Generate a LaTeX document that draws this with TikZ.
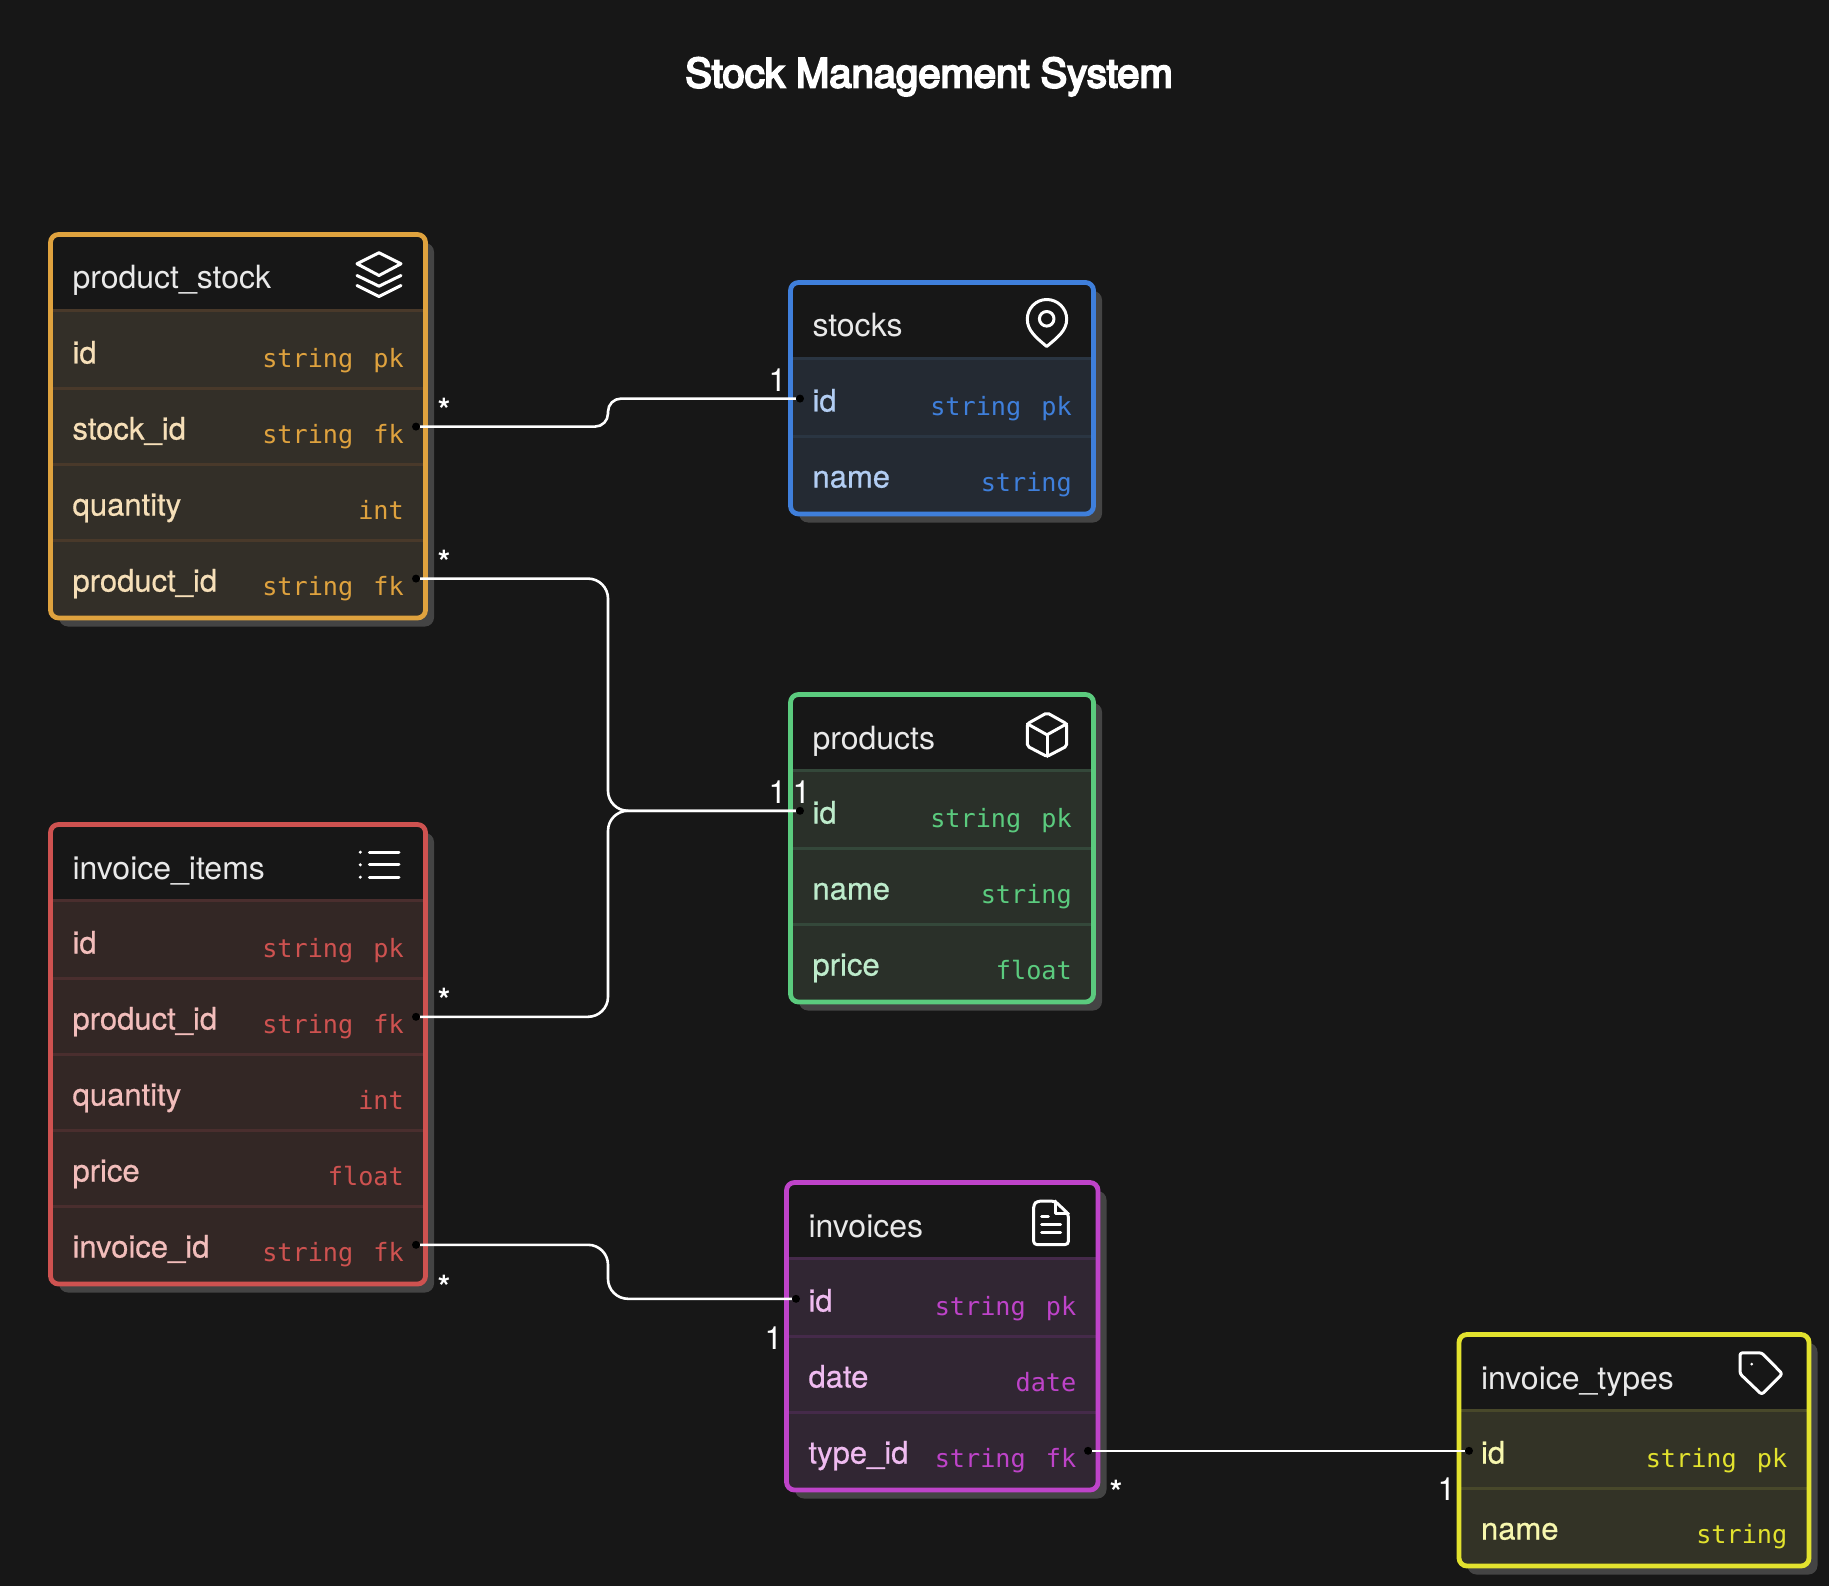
\documentclass[tikz,border=0pt]{standalone}
\usepackage{fontspec}
\setmainfont{TeX Gyre Heros}
\newfontfamily\monof{DejaVu Sans Mono}
\newfontfamily\titlef[FakeBold=5]{TeX Gyre Heros}
\newfontfamily\fieldf[FakeBold=0.6]{TeX Gyre Heros}
\definecolor{bgc}{HTML}{171717}
\definecolor{shc}{HTML}{444444}
\definecolor{hdc}{HTML}{E9E9E9}
\definecolor{ofr}{HTML}{DFA23E}\definecolor{obd}{HTML}{332F28}\definecolor{osp}{HTML}{49392A}\definecolor{otx}{HTML}{F6DFB8}
\definecolor{bfr}{HTML}{3F7FDB}\definecolor{bbd}{HTML}{242A33}\definecolor{bsp}{HTML}{2A3542}\definecolor{btx}{HTML}{B2CDF3}
\definecolor{gfr}{HTML}{5BCB7E}\definecolor{gbd}{HTML}{2A3029}\definecolor{gsp}{HTML}{34483A}\definecolor{gtx}{HTML}{BDEBCB}
\definecolor{rfr}{HTML}{CE5250}\definecolor{rbd}{HTML}{332725}\definecolor{rsp}{HTML}{4A2E2E}\definecolor{rtx}{HTML}{F2BDBB}
\definecolor{pfr}{HTML}{BE43C9}\definecolor{pbd}{HTML}{312633}\definecolor{psp}{HTML}{452A4A}\definecolor{ptx}{HTML}{EFBBF0}
\definecolor{yfr}{HTML}{E2E22E}\definecolor{ybd}{HTML}{333326}\definecolor{ysp}{HTML}{48482A}\definecolor{ytx}{HTML}{F7F7AE}
\tikzset{
  x=1pt,y=-1pt,
  hdtext/.style={anchor=base west,inner sep=0pt,text=hdc,font=\fontsize{32}{34}\selectfont},
  fieldtext/.style={anchor=base west,inner sep=0pt,font=\fieldf\fontsize{31}{34}\selectfont},
  typetext/.style={anchor=base east,inner sep=0pt,font=\monof\fontsize{25.2}{28}\selectfont},
  conn/.style={draw=white,line width=2.6pt},
  dotn/.style={circle,fill=black,inner sep=0pt,minimum size=8pt},
  onelabel/.style={anchor=base,inner sep=0pt,text=white,font=\fontsize{32}{34}\selectfont},
  manylabel/.style={anchor=base,inner sep=0pt,text=white,font=\bfseries\fontsize{32}{34}\selectfont},
  icon/.style={draw=white,line width=3pt,line join=round,line cap=round},
}
% #1 node prefix, #2 colour prefix, #3 left, #4 top, #5 right, #6 rows, #7 title
\newcommand\enttable[7]{%
  \def\tN{#1}\def\tP{#2}\def\tL{#3}\def\tT{#4}\def\tR{#5}%
  \pgfmathsetmacro\tB{#4+155.5+76*(#6-1)}%
  \fill[shc,rounded corners=9pt] (#3+8.5,#4+8.5) rectangle (#5+8.5,\tB+8.5);
  \fill[bgc,rounded corners=8pt] (#3,#4) rectangle (#5,\tB);
  \begin{scope}
    \clip[rounded corners=8pt] (#3,#4) rectangle (#5,\tB);
    \fill[#2bd] (#3,#4+76.3) rectangle (#5,\tB);
    \draw[#2sp,line width=3pt] (#3,#4+76.3) -- (#5,#4+76.3);
    \ifnum#6>1
      \foreach \k in {2,...,#6}{
        \draw[#2sp,line width=3pt] (#3,#4+154.2+76*\k-152) -- (#5,#4+154.2+76*\k-152);
      }
    \fi
  \end{scope}
  \draw[#2fr,line width=4.8pt,rounded corners=8pt] (#3,#4) rectangle (#5,\tB);
  \node[hdtext] (#1-title) at (#3+21.8,#4+54.5) {#7};
}
% #1 row, #2 field, #3 type, #4 key
\newcommand\entrow[4]{%
  \node[fieldtext,text=\tP tx] (\tN-f#1) at (\tL+21.8,\tT+129+76*#1-76) {#2};
  \def\keytmp{#4}%
  \ifx\keytmp\empty
    \node[typetext,text=\tP fr] (\tN-t#1) at (\tR-21.5,\tT+132.8+76*#1-76) {#3};
  \else
    \node[typetext,text=\tP fr] (\tN-k#1) at (\tR-21.5,\tT+132.8+76*#1-76) {#4};
    \node[typetext,text=\tP fr] (\tN-t#1) at (\tR-72,\tT+132.8+76*#1-76) {#3};
  \fi
}
\begin{document}
\begin{tikzpicture}
\path[use as bounding box] (0,0) rectangle (1829,1586);
\fill[bgc] (0,0) rectangle (1829,1586);

\node[anchor=base,inner sep=0pt,text=white,font=\titlef\fontsize{40}{44}\selectfont] (title) at (929,87.3) {Stock Management System};

\enttable{ps}{o}{50.5}{234.5}{425.5}{4}{product\_stock}
\entrow{1}{id}{string}{pk}
\entrow{2}{stock\_id}{string}{fk}
\entrow{3}{quantity}{int}{}
\entrow{4}{product\_id}{string}{fk}

\enttable{st}{b}{790.5}{282.5}{1093.5}{2}{stocks}
\entrow{1}{id}{string}{pk}
\entrow{2}{name}{string}{}

\enttable{pr}{g}{790.5}{694.5}{1093.5}{3}{products}
\entrow{1}{id}{string}{pk}
\entrow{2}{name}{string}{}
\entrow{3}{price}{float}{}

\enttable{ii}{r}{50.5}{824.5}{425.5}{5}{invoice\_items}
\entrow{1}{id}{string}{pk}
\entrow{2}{product\_id}{string}{fk}
\entrow{3}{quantity}{int}{}
\entrow{4}{price}{float}{}
\entrow{5}{invoice\_id}{string}{fk}

\enttable{in}{p}{786.5}{1182.5}{1098}{3}{invoices}
\entrow{1}{id}{string}{pk}
\entrow{2}{date}{date}{}
\entrow{3}{type\_id}{string}{fk}

\enttable{it}{y}{1459}{1334.5}{1809}{2}{invoice\_types}
\entrow{1}{id}{string}{pk}
\entrow{2}{name}{string}{}

% icons
\draw[icon] (379,252.8) -- (401,263.8) -- (379,275.5) -- (357,263.8) -- cycle;
\draw[icon] (357,275.5) -- (379,286.2) -- (401,275.5);
\draw[icon] (357,285.5) -- (379,296.5) -- (401,285.5);

\draw[icon] (1046.7,346.5) .. controls (1036,337.5) and (1027.3,330.5) .. (1027.3,319.2)
  .. controls (1027.3,308.3) and (1036,299.5) .. (1046.7,299.5)
  .. controls (1057.6,299.5) and (1066.7,308.3) .. (1066.7,319.2)
  .. controls (1066.7,330.5) and (1057.4,337.5) .. (1046.7,346.5) -- cycle;
\draw[icon] (1046.7,318.8) circle (7.3);

\draw[icon,rounded corners=2pt] (1047,712.8) -- (1066.7,723.8) -- (1066.7,746.2) -- (1047,756.5) -- (1027.3,746.2) -- (1027.3,723.8) -- cycle;
\draw[icon] (1027.3,723.8) -- (1047,734.8) -- (1066.7,723.8);
\draw[icon] (1047,734.8) -- (1047,756.5);

\draw[icon] (369.3,852.2) -- (399,852.2);
\draw[icon] (369.3,864.8) -- (399,864.8);
\draw[icon] (369.3,877.2) -- (399,877.2);
\fill[white] (360.3,852.2) circle (1.7);
\fill[white] (360.3,864.8) circle (1.7);
\fill[white] (360.3,877.2) circle (1.7);

\draw[icon,rounded corners=3pt] (1055,1201.2) -- (1037,1201.2) -- (1033.7,1204.5) -- (1033.7,1244.5) -- (1068.3,1244.5) -- (1068.3,1213.8) -- cycle;
\draw[icon] (1055,1201.2) -- (1055,1213.8) -- (1068.3,1213.8);
\draw[icon] (1041.7,1216.5) -- (1048.3,1216.5);
\draw[icon] (1041.7,1224.5) -- (1060.7,1224.5);
\draw[icon] (1041.7,1232.8) -- (1060.7,1232.8);

\draw[icon,rounded corners=2.5pt] (1740,1352.8) -- (1761.7,1352.8) -- (1782.3,1373.8) -- (1761.7,1394.5) -- (1740,1373.8) -- cycle;
\fill[white] (1751.7,1364.2) circle (1.5);

% end points
\coordinate (jx) at (608,0);
\node[dotn] (psd2) at (416,426.6) {};
\node[dotn] (psd4) at (416,578.6) {};
\node[dotn] (iid2) at (416,1016.8) {};
\node[dotn] (iid5) at (416,1244.8) {};
\node[dotn] (std1) at (800,398.6) {};
\node[dotn] (prd1) at (800,810.8) {};
\node[dotn] (ind1) at (796,1298.8) {};
\node[dotn] (ind3) at (1088,1450.8) {};
\node[dotn] (itd1) at (1469,1450.8) {};

% connectors
\draw[conn,rounded corners=13pt] (psd2) -- (psd2 -| jx) -- (jx |- std1) -- (std1);
\draw[conn,rounded corners=20pt] (psd4) -- (psd4 -| jx) -- (jx |- prd1) -- (prd1);
\draw[conn,rounded corners=20pt] (iid2) -- (iid2 -| jx) -- (jx |- prd1) -- (prd1);
\draw[conn,rounded corners=20pt] (iid5) -- (iid5 -| jx) -- (jx |- ind1) -- (ind1);
\draw[conn] (ind3) -- (itd1);

% multiplicities
\node[manylabel] (m1) at (444,421.4) {*};
\node[manylabel] (m2) at (444,573.4) {*};
\node[manylabel] (m3) at (444,1011.7) {*};
\node[manylabel] (m4) at (444,1298) {*};
\node[manylabel] (m5) at (1116,1503.1) {*};
\node[onelabel] (o1) at (777.5,391.5) {1};
\node[onelabel] (o2) at (777.5,803.2) {1};
\node[onelabel] (o3) at (801.5,803.2) {1};
\node[onelabel] (o4) at (773.5,1349.5) {1};
\node[onelabel] (o5) at (1446.5,1500.5) {1};
\end{tikzpicture}
\end{document}
